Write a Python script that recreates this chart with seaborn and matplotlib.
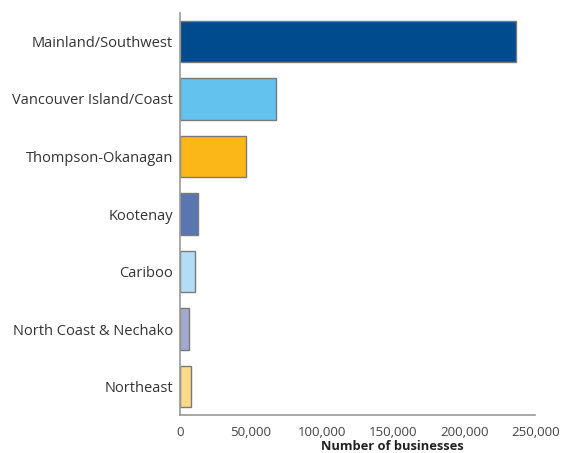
import matplotlib
matplotlib.use("Agg")
import matplotlib.pyplot as plt
import seaborn as sns
import pandas as pd

regions = ["Mainland/Southwest", "Vancouver Island/Coast", "Thompson-Okanagan",
           "Kootenay", "Cariboo", "North Coast & Nechako", "Northeast"]
businesses = [236200, 67500, 46700, 12400, 10800, 6100, 8000]
colors = ["#004B8D", "#63C2EE", "#FBB617", "#5A76B0", "#B3DDF5", "#A3AACF", "#FDD98A"]
xticks = [0, 50000, 100000, 150000, 200000, 250000]

sns.set_theme(style="white")
plt.rcParams['font.family'] = ['Open Sans', 'DejaVu Sans']

df = pd.DataFrame({"region": regions, "n": businesses})

fig = plt.figure(figsize=(5.67, 4.53), dpi=100)
ax = fig.add_axes([180/567, 1-415.3/453, 355.3/567, (415.3-12.7)/453])
sns.barplot(data=df, x="n", y="region", hue="region", palette=colors, legend=False,
            orient="h", width=0.72, edgecolor="#7a7a7a", linewidth=1, saturation=1, ax=ax)

ax.set_xlim(0, 250000)
ax.set_ylim(6.5, -0.5)
ax.set_xticks(xticks)
ax.set_xticklabels([f"{v:,}" for v in xticks])
ax.set_ylabel("")
ax.set_xlabel("Number of businesses", fontsize=9.3, fontweight="bold", color="#222222")
ax.xaxis.set_label_coords(0.597, -0.062)
ax.tick_params(axis="x", direction="in", length=9, width=1, color="#999999",
               labelsize=9.5, labelcolor="#444444", pad=8)
ax.tick_params(axis="y", length=0, labelsize=10.5, labelcolor="#333333", pad=5)
for s in ["top", "right"]:
    ax.spines[s].set_visible(False)
for s in ["left", "bottom"]:
    ax.spines[s].set_color("#999999")
    ax.spines[s].set_linewidth(1.2)

fig.savefig("out.png", dpi=100)
